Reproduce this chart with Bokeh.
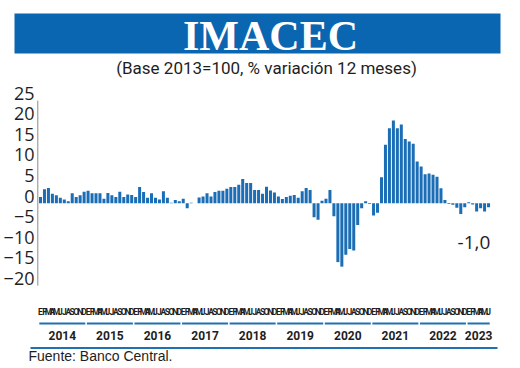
from bokeh.plotting import figure
from bokeh.layouts import column
from bokeh.models import Range1d, LinearAxis, FixedTicker, ColumnDataSource
from bokeh.core.properties import value
from bokeh.embed import file_html
from bokeh.resources import INLINE

# ---------------- data ----------------
title_text = "IMACEC"
subtitle_text = "(Base 2013=100, % variación 12 meses)"
source_text = "Fuente: Banco Central."

years = ["2014", "2015", "2016", "2017", "2018", "2019", "2020", "2021", "2022", "2023"]
month_letters = ["E", "F", "M", "A", "M", "J", "J", "A", "S", "O", "N", "D"]
yticks = [-20, -15, -10, -5, 0, 5, 10, 15, 20, 25]

v2014 = [1.5, 3.4, 3.7, 2.3, 1.9, 1.3, 0.9, 0.5, 2.4, 1.5, 1.9, 2.8]
v2015 = [3.0, 2.4, 2.4, 2.4, 1.1, 2.5, 1.9, 1.5, 2.8, 1.5, 2.1, 2.0]
v2016 = [1.5, 3.9, 2.7, 1.3, 2.4, 1.3, 0.9, 2.9, 1.3, 0.1, 0.8, 0.5]
v2017 = [1.1, -1.2, 0.1, 0.0, 1.4, 1.6, 2.4, 1.6, 2.7, 3.0, 3.0, 3.5]
v2018 = [3.9, 3.9, 4.5, 5.9, 4.9, 4.9, 3.2, 3.2, 2.3, 4.0, 3.1, 2.6]
v2019 = [1.6, 1.0, 1.5, 1.8, 2.0, 1.3, 2.9, 3.7, 3.2, -3.4, -4.0, 0.6]
v2020 = [1.1, 3.2, -3.2, -14.3, -15.4, -12.5, -11.1, -11.5, -5.3, -1.2, 0.5, -0.2]
v2021 = [-3.0, -2.3, 6.3, 14.2, 18.2, 20.1, 18.2, 19.1, 15.6, 15.0, 14.4, 10.1]
v2022 = [8.9, 7.0, 7.2, 6.9, 6.4, 3.6, 0.8, -0.2, -0.4, -1.1, -2.6, -1.0]
v2023 = [0.2, -0.3, -2.0, -1.2, -2.0, -1.0]

series = [v2014, v2015, v2016, v2017, v2018, v2019, v2020, v2021, v2022, v2023]
values = [v for yr in series for v in yr]
n = len(values)
idx = list(range(n))
letters = [month_letters[i % 12] for i in idx]

starts, ends = [], []
k = 0
for yr in series:
    starts.append(k)
    ends.append(k + len(yr) - 1)
    k += len(yr)
centers = [(a + b) / 2 for a, b in zip(starts, ends)]
last_label = ("%.1f" % values[-1]).replace(".", ",")

# ---------------- style ----------------
BAR = "#1b6db5"
HEAD = "#0b66b2"
LINE = "#2171b0"
INK = "#1e1e1e"
W = 520

common = dict(toolbar_location=None, output_backend="svg", outline_line_color=None,
              x_axis_type=None, y_axis_type=None, frame_align=False)

# ---------------- header ----------------
p1 = figure(width=W, height=80, x_range=Range1d(0, 520), y_range=Range1d(80, 0),
            min_border=0, **common)
p1.quad(left=[14], right=[500], top=[13], bottom=[53], fill_color=HEAD, line_color=None)
p1.text(x=[270], y=[35], text=[title_text], text_align="center", text_baseline="middle",
        text_font=value("Liberation Serif"), text_font_style="bold",
        text_font_size="42px", text_color="white")
p1.text(x=[266], y=[67], text=[subtitle_text], text_align="center", text_baseline="middle",
        text_font=value("Roboto"), text_font_size="17px", text_color=INK)

# ---------------- chart ----------------
p2 = figure(width=W, height=264, x_range=Range1d(-1.009, 121.06), y_range=Range1d(-34.30, 29.78),
            min_border_left=36, min_border_right=0, min_border_top=0, min_border_bottom=0,
            **common)
p2.extra_y_ranges = {"lab": Range1d(-36.0, 28.08)}
ax = LinearAxis(y_range_name="lab", ticker=FixedTicker(ticks=yticks),
                axis_line_color=None, major_tick_line_color=None, minor_tick_line_color=None,
                major_tick_out=0, major_tick_in=0, major_label_standoff=2,
                major_label_text_font="Open Sans", major_label_text_font_size="18px",
                major_label_text_color=INK)
p2.add_layout(ax, "left")

src = ColumnDataSource(dict(x=idx, v=values))
p2.vbar(x="x", top="v", bottom=0, width=0.76, source=src, fill_color=BAR, line_color=None)
p2.segment(x0=[-0.68], y0=[-20], x1=[-0.68], y1=[24.9], line_color="#8a8a8a", line_width=1)

p2.text(x=idx, y=[-26.3] * n, text=letters, text_align="center", text_baseline="middle",
        text_font=value("Roboto"), text_font_style="bold",
        text_font_size="8.5px", text_color=INK)
p2.segment(x0=[s - 0.3 for s in starts], x1=[e + 0.3 for e in ends],
           y0=[-29.2] * len(years), y1=[-29.2] * len(years), line_color=LINE, line_width=2)
p2.text(x=centers, y=[-32.2] * len(years), text=years, text_align="center",
        text_baseline="middle", text_font=value("Roboto"),
        text_font_style="bold", text_font_size="12px", text_color=INK)
p2.text(x=[105.2], y=[-9.5], text=[last_label], text_align="left", text_baseline="middle",
        text_font=value("Open Sans"), text_font_size="19px", text_color=INK)

# ---------------- footer ----------------
p3 = figure(width=W, height=22, x_range=Range1d(0, 520), y_range=Range1d(366, 344),
            min_border=0, **common)
p3.segment(x0=[30], x1=[497], y0=[347.5], y1=[347.5], line_color=LINE, line_width=2)
p3.text(x=[28], y=[355.5], text=[source_text], text_align="left", text_baseline="middle",
        text_font=value("Liberation Sans"), text_font_size="14px", text_color=INK)

layout = column(p1, p2, p3, spacing=0)
open("out.html", "w").write(file_html(layout, INLINE))
